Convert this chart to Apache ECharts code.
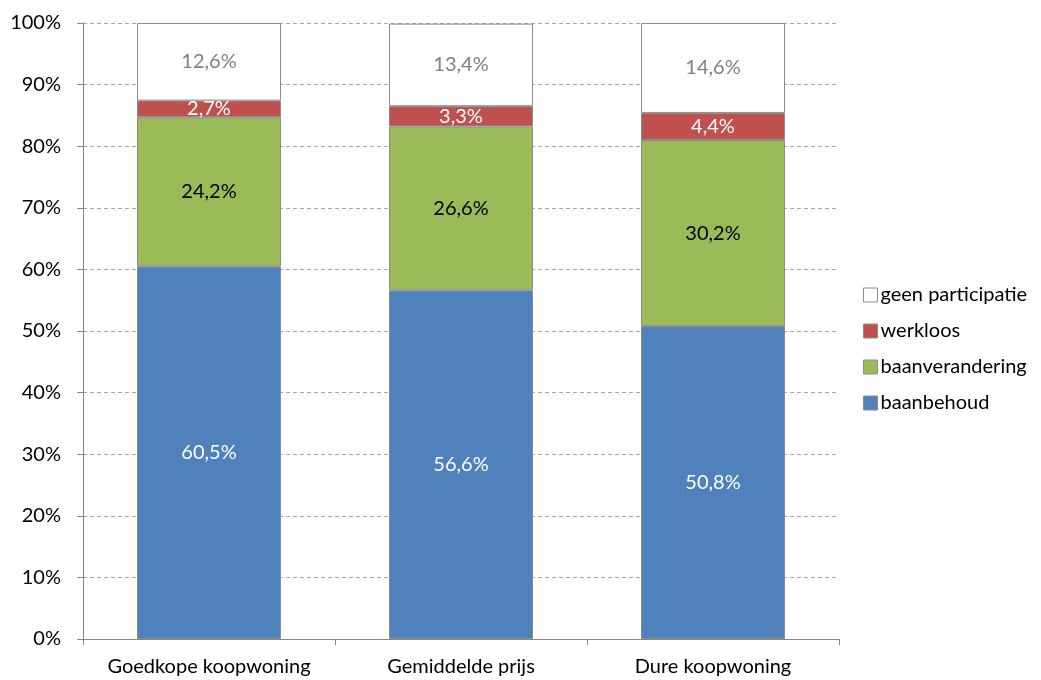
<!DOCTYPE html>
<html><head><meta charset="utf-8">
<script src="https://cdn.jsdelivr.net/npm/echarts@6/dist/echarts.min.js"></script>
<style>html,body{margin:0;padding:0;background:#fff}#c{width:1041px;height:680px}</style>
</head><body><div id="c"></div>
<script>
const categories = ['Goedkope koopwoning', 'Gemiddelde prijs', 'Dure koopwoning'];
const baanbehoud = [60.5, 56.6, 50.8];
const baanverandering = [24.2, 26.6, 30.2];
const werkloos = [2.7, 3.3, 4.4];
const geenParticipatie = [12.6, 13.4, 14.6];
const legendOrder = ['geen participatie', 'werkloos', 'baanverandering', 'baanbehoud'];

const font = 'Lato, "Open Sans", sans-serif';
const fmt = p => p.value.toFixed(1).replace('.', ',') + '%';
function mk(name, data, color, labelColor) {
  return {
    name, type: 'bar', stack: 's', data, barWidth: 144,
    itemStyle: { color, borderColor: '#8c8c8c', borderWidth: 1 },
    label: { show: true, position: 'inside', formatter: fmt, color: labelColor, fontSize: 20, fontFamily: font },
    emphasis: { disabled: true }
  };
}
const chart = echarts.init(document.getElementById('c'));
chart.setOption({
  animation: false,
  grid: { left: 83, right: 202, top: 23, bottom: 41 },
  legend: {
    orient: 'vertical', left: 858, top: 280, itemGap: 16, itemWidth: 14, itemHeight: 14,
    data: legendOrder.map(n => ({ name: n, icon: 'rect' })),
    textStyle: { fontSize: 20, color: '#000', fontFamily: font, padding: [0, 0, 0, -2] },
    itemStyle: { borderColor: '#8c8c8c', borderWidth: 1 }
  },
  xAxis: {
    type: 'category', data: categories,
    axisLine: { lineStyle: { color: '#868686' } },
    axisTick: { show: true, length: 6, lineStyle: { color: '#868686' } },
    axisLabel: { interval: 0, hideOverlap: false, fontSize: 20, color: '#000', fontFamily: font, margin: 18 }
  },
  yAxis: {
    type: 'value', min: 0, max: 100, interval: 10,
    axisLine: { show: true, lineStyle: { color: '#868686' } },
    axisTick: { show: true, length: 6, lineStyle: { color: '#868686' } },
    axisLabel: { fontSize: 20, color: '#000', fontFamily: font, margin: 22, formatter: v => v + '%' },
    splitLine: { lineStyle: { color: '#a6a6a6', type: [4, 3] } }
  },
  series: [
    mk('baanbehoud', baanbehoud, '#4f81bd', '#fff'),
    mk('baanverandering', baanverandering, '#9bbb59', '#000'),
    mk('werkloos', werkloos, '#c0504d', '#fff'),
    mk('geen participatie', geenParticipatie, '#ffffff', '#808080')
  ]
});
</script></body></html>
